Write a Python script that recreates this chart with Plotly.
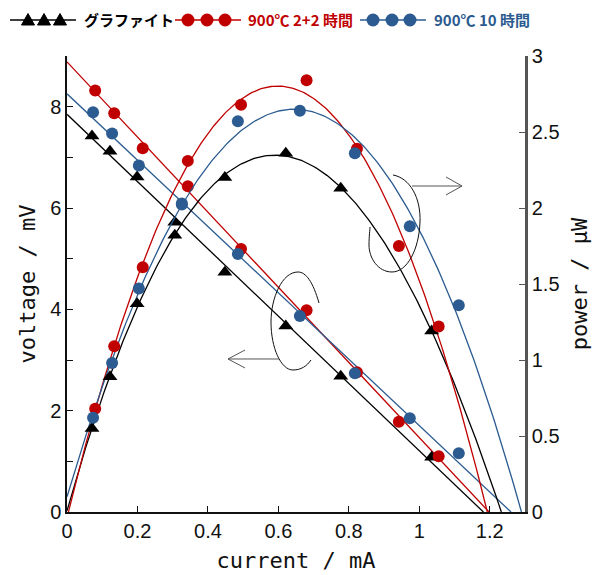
import numpy as np
import plotly.graph_objects as go

# ---------------- data ----------------
graphite_current = [0.071, 0.122, 0.199, 0.306, 0.448, 0.621, 0.777, 1.035]
graphite_voltage = [7.42, 7.12, 6.61, 5.72, 4.73, 3.67, 2.68, 1.08]
graphite_power = [0.55, 0.89, 1.37, 1.82, 2.20, 2.36, 2.13, 1.19]

red_current = [0.080, 0.134, 0.215, 0.343, 0.494, 0.680, 0.823, 0.942, 1.055]
red_voltage = [8.32, 7.87, 7.18, 6.43, 5.19, 3.98, 2.76, 1.78, 1.10]
red_power = [0.68, 1.09, 1.61, 2.31, 2.68, 2.84, 2.39, 1.75, 1.22]

blue_current = [0.074, 0.128, 0.204, 0.326, 0.485, 0.661, 0.817, 0.973, 1.112]
blue_voltage = [7.89, 7.47, 6.84, 6.07, 5.09, 3.87, 2.74, 1.85, 1.16]
blue_power = [0.62, 0.98, 1.47, 2.03, 2.57, 2.64, 2.36, 1.88, 1.36]

# trend-line of the blue power curve (cubic, highest power first)
blue_power_fit_coeffs = [-0.1864, -5.8889, 7.8293, 0.100]

series_names = ["グラファイト", "900℃ 2+2 時間", "900℃ 10 時間"]
x_ticks = [0, 0.2, 0.4, 0.6, 0.8, 1.0, 1.2]
x_tick_labels = ["0", "0.2", "0.4", "0.6", "0.8", "1", "1.2"]
yl_ticks = list(range(0, 10))
yl_tick_labels = ["0", "", "2", "", "4", "", "6", "", "8", ""]
yr_ticks = [0, 0.5, 1, 1.5, 2, 2.5, 3]
yr_tick_labels = ["0", "0.5", "1", "1.5", "2", "2.5", "3"]

BLACK = "#000000"
RED = "#C00000"
BLUE = "#2B5B90"


def lin_fit(x, y):
    c = np.polyfit(x, y, 1)
    root = -c[1] / c[0]
    xs = np.linspace(0, root, 60)
    return xs, np.polyval(c, xs)


def poly_curve(c):
    roots = [z.real for z in np.roots(c) if abs(z.imag) < 1e-9 and 1.0 < z.real < 1.6]
    end = min(roots) if roots else 1.3
    xs = np.linspace(0, end, 240)
    return xs, np.polyval(c, xs)


fig = go.Figure()

power_fits = [
    np.polyfit(graphite_current, graphite_power, 3),
    np.polyfit(red_current, red_power, 2),
    np.array(blue_power_fit_coeffs),
]

series = [
    (graphite_current, graphite_voltage, graphite_power, BLACK, "triangle-up"),
    (red_current, red_voltage, red_power, RED, "circle"),
    (blue_current, blue_voltage, blue_power, BLUE, "circle"),
]

for (cur, vol, pw, col, sym), pc in zip(series, power_fits):
    xs, ys = lin_fit(cur, vol)
    fig.add_trace(go.Scatter(x=xs, y=ys, mode="lines", line=dict(color=col, width=1.3),
                             showlegend=False, hoverinfo="skip"))
    xs, ys = poly_curve(pc)
    fig.add_trace(go.Scatter(x=xs, y=ys, mode="lines", line=dict(color=col, width=1.3),
                             yaxis="y2", showlegend=False, hoverinfo="skip"))

for cur, vol, pw, col, sym in series:
    msize = 12 if sym == "circle" else 13
    fig.add_trace(go.Scatter(x=cur, y=vol, mode="markers",
                             marker=dict(symbol=sym, size=msize, color=col, line=dict(width=0)),
                             showlegend=False))
    fig.add_trace(go.Scatter(x=cur, y=pw, mode="markers", yaxis="y2",
                             marker=dict(symbol=sym, size=msize, color=col, line=dict(width=0)),
                             showlegend=False))

# ---------- decorations (pixel -> paper helpers) ----------
L, R, T, B = 67, 525, 56, 512


def PX(x):
    return (x - L) / (R - L)


def PY(y):
    return (B - y) / (B - T)


def path(cmds):
    out = []
    for cmd, (a, b) in cmds:
        out.append(f"{cmd} {PX(a):.5f},{PY(b):.5f}")
    return " ".join(out)


def bezier_path(pts):
    return "M {} C {} {} {} C {} {} {} C {} {} {} C {} {} {}".format(
        *[f"{PX(a):.5f},{PY(b):.5f}" for a, b in pts])


shapes = []
# left loop + arrow
shapes.append(dict(type="path", xref="paper", yref="paper", line=dict(color="#111", width=1),
                   path=bezier_path([(319, 303),
                                     (313, 282), (306, 272), (298, 272),
                                     (282, 272), (271, 298), (271, 322),
                                     (271, 348), (281, 370), (293, 370),
                                     (301, 370), (307, 366), (311, 360)])))
shapes.append(dict(type="path", xref="paper", yref="paper", line=dict(color="#555", width=1),
                   path=path([("M", (279, 359)), ("L", (228, 359)),
                              ("M", (245, 350)), ("L", (228, 359)), ("L", (245, 368))])))
# right loop + arrow
shapes.append(dict(type="path", xref="paper", yref="paper", line=dict(color="#111", width=1),
                   path=bezier_path([(393, 175),
                                     (410, 178), (421, 198), (420, 222),
                                     (419, 250), (407, 272), (392, 272),
                                     (378, 272), (369, 258), (369, 245),
                                     (369, 236), (370, 230), (370, 227)])))
shapes.append(dict(type="path", xref="paper", yref="paper", line=dict(color="#555", width=1),
                   path=path([("M", (412, 186)), ("L", (462, 186)),
                              ("M", (446, 177)), ("L", (462, 186)), ("L", (446, 195))])))

# legend
LY = 20
legend_items = [
    (BLACK, "tri", 10, 76, [28, 44, 60], 82),
    (RED, "circ", 175, 241, [188, 207, 225], 246),
    (BLUE, "circ", 360, 426, [373, 392, 410], 432),
]
annotations = []
for (col, kind, x0, x1, mx, tx), name in zip(legend_items, series_names):
    shapes.append(dict(type="line", xref="paper", yref="paper", x0=PX(x0), x1=PX(x1),
                       y0=PY(LY), y1=PY(LY), line=dict(color=col, width=1.5)))
    for m in mx:
        if kind == "tri":
            shapes.append(dict(type="path", xref="paper", yref="paper", fillcolor=col,
                               line=dict(color=col, width=1),
                               path=path([("M", (m - 6.5, LY + 5)), ("L", (m + 6.5, LY + 5)),
                                          ("L", (m, LY - 6.5))]) + " Z"))
        else:
            shapes.append(dict(type="circle", xref="paper", yref="paper", fillcolor=col,
                               line=dict(color=col, width=0),
                               x0=PX(m - 6.5), x1=PX(m + 6.5), y0=PY(LY + 6.5), y1=PY(LY - 6.5)))
    annotations.append(dict(xref="paper", yref="paper", x=PX(tx), y=PY(LY), xanchor="left",
                            yanchor="middle", showarrow=False, text=f"<b>{name}</b>",
                            font=dict(family="Noto Sans CJK JP", size=15, color=col)))

tick_font = dict(family="Liberation Sans, Arial", size=20, color="#111")
title_font = dict(family="DejaVu Sans Mono", size=22, color="#111")

fig.update_layout(
    width=598, height=575,
    margin=dict(l=L, r=598 - R, t=T, b=575 - B),
    paper_bgcolor="white", plot_bgcolor="white",
    showlegend=False,
    shapes=shapes,
    annotations=annotations,
    xaxis=dict(range=[0, 1.3], tickvals=x_ticks, ticktext=x_tick_labels, automargin=False,
               ticks="inside", ticklen=6, tickcolor="#111", showline=True, linecolor="#111",
               linewidth=1.5, showgrid=False, zeroline=False, tickfont=tick_font,
               title=dict(text="current / mA", font=title_font, standoff=12)),
    yaxis=dict(range=[0, 9], tickvals=yl_ticks, ticktext=yl_tick_labels, automargin=False,
               ticks="inside", ticklen=6, tickcolor="#111", showline=True, linecolor="#111",
               linewidth=1.5, showgrid=False, zeroline=False, tickfont=tick_font,
               title=dict(text="voltage / mV", font=title_font, standoff=8)),
    yaxis2=dict(range=[0, 3], tickvals=yr_ticks, ticktext=yr_tick_labels, overlaying="y",
                side="right", ticks="inside", ticklen=6, tickcolor="#555", showline=True,
                linecolor="#555", linewidth=2.5, showgrid=False, zeroline=False,
                tickfont=tick_font, automargin=False,
                title=dict(text="power / μW", font=title_font, standoff=14)),
)

fig.write_html("out.html", config={"displayModeBar": False},
               post_script="document.body.style.margin='0';")
